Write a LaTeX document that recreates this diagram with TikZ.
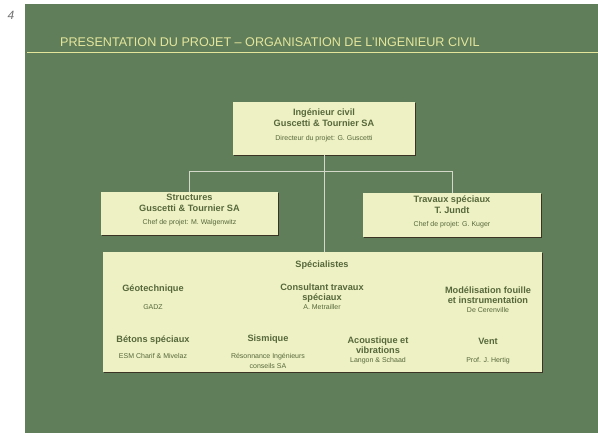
\documentclass[tikz,border=0pt]{standalone}
\usepackage{fontspec}
\setmainfont{Liberation Sans}
\usepackage{xcolor}
\usepackage{tikz}
\usetikzlibrary{calc, positioning, shadows}

\definecolor{slidegreen}{HTML}{617E5A}
\definecolor{boxfill}{HTML}{EEF1C4}
\definecolor{inkgreen}{HTML}{56683A}
\definecolor{titlecol}{HTML}{E4E69C}
\definecolor{linecol}{HTML}{D4D8C8}
\definecolor{shadowcol}{HTML}{3B3424}

\tikzset{
	orgbox/.style = {fill=boxfill, inner sep=0pt,
		drop shadow={shadow xshift=1.3pt, shadow yshift=-1.3pt, fill=shadowcol, opacity=1}},
	head/.style = {text=inkgreen, align=center, inner sep=0pt,
		font=\bfseries\fontsize{9.2}{10}\selectfont},
	who/.style = {text=inkgreen, align=center, inner sep=0pt,
		font=\fontsize{7}{10}\selectfont},
	link/.style = {draw=linecol, line width=0.8pt},
}

\begin{document}
\begin{tikzpicture}[x=1pt, y=-1pt]
	\useasboundingbox (0,0) rectangle (598,437);
	\fill[white] (0,0) rectangle (598,437);
	\fill[slidegreen] (25,4) rectangle (598,433);

	% slide heading
	\node[text=black!55, font=\itshape\fontsize{12}{12}\selectfont] (page) at (11,15) {4};
	\node[text=titlecol, anchor=west, inner sep=0pt, font=\fontsize{12.6}{12.6}\selectfont] (title) at (60,42)
		{PRESENTATION DU PROJET – ORGANISATION DE L’INGENIEUR CIVIL};
	\draw[titlecol, line width=1pt] (27,52) -- (598,52);

	% boxes
	\node[orgbox, minimum width=182, minimum height=53] (civil) at (324,128.5) {};
	\node[orgbox, minimum width=177, minimum height=43] (struct) at (189.5,213.5) {};
	\node[orgbox, minimum width=178, minimum height=44] (trav) at (452,215) {};
	\node[orgbox, minimum width=439, minimum height=120] (spec) at (322.5,312) {};

	\draw[link] (civil.south) -- (civil.south |- spec.north);
	\draw[link] (struct.north) -- ++(0,-20) -| (trav.north);

	% texts of the upper boxes
	\node[head, font=\bfseries\fontsize{9.2}{11}\selectfont] (civil-name) at ($(civil.north)+(0,15.5)$) {Ingénieur civil\\Guscetti \& Tournier SA};
	\node[who] (civil-who) at ($(civil.north)+(0,37)$) {Directeur du projet: G. Guscetti};

	\node[head, font=\bfseries\fontsize{9.2}{11}\selectfont] (struct-name) at ($(struct.north)+(0,11.5)$) {Structures\\Guscetti \& Tournier SA};
	\node[who] (struct-who) at ($(struct.north)+(0,31)$) {Chef de projet: M. Walgenwitz};

	\node[head, font=\bfseries\fontsize{9.2}{11}\selectfont] (trav-name) at ($(trav.north)+(0,12)$) {Travaux spéciaux\\T. Jundt};
	\node[who] (trav-who) at ($(trav.north)+(0,32)$) {Chef de projet: G. Kuger};

	% specialists
	\node[head] (spec-name) at (322,265) {Spécialistes};

	\node[head] (geo) at (153,289) {Géotechnique};
	\node[who] (geo-who) at (153,307) {GADZ};
	\node[head] (consult) at (322,293.5) {Consultant travaux\\spéciaux};
	\node[who] (consult-who) at (322,306.5) {A. Metrailler};
	\node[head] (model) at (488,295) {Modélisation fouille\\et instrumentation};
	\node[who] (model-who) at (488,310) {De Cerenville};

	\node[head] (beton) at (153,340) {Bétons spéciaux};
	\node[who] (beton-who) at (153,356) {ESM Charif \& Mivelaz};
	\node[head] (sism) at (268,339) {Sismique};
	\node[who] (sism-who) at (268,361) {Résonnance Ingénieurs\\conseils SA};
	\node[head] (acou) at (378,345) {Acoustique et\\vibrations};
	\node[who] (acou-who) at (378,361) {Langon \& Schaad};
	\node[head] (vent) at (488,341) {Vent};
	\node[who] (vent-who) at (488,361) {Prof. J. Hertig};
\end{tikzpicture}
\end{document}
